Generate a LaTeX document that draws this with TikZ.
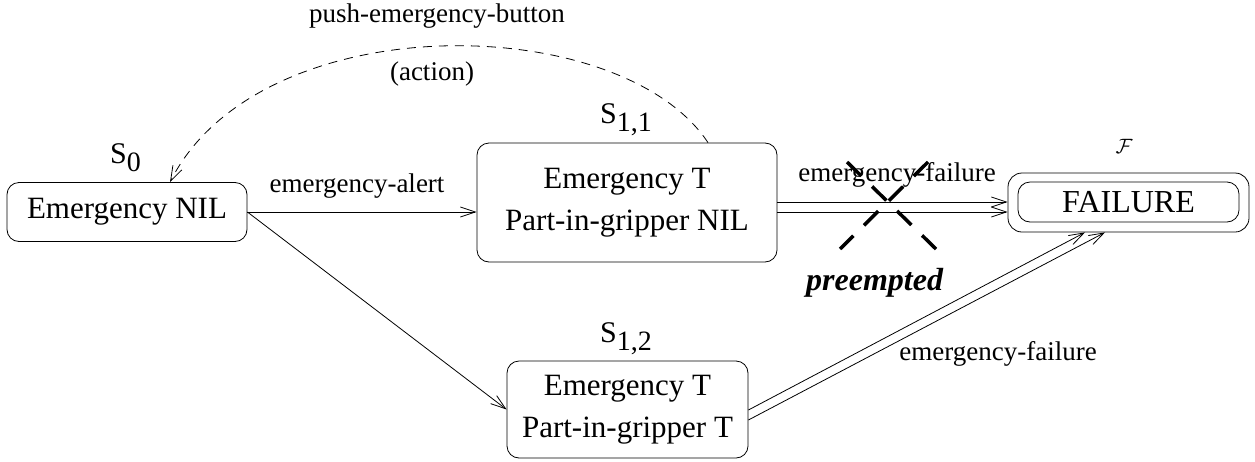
\documentclass[tikz,border=0pt]{standalone}
\usepackage{fontspec}
\usepackage{graphicx}
\setmainfont{Liberation Serif}
\usetikzlibrary{arrows.meta}
\tikzset{
  statebox/.style={draw, rounded corners=12pt, line width=0.8pt, inner sep=0pt, align=center,
    font=\fontsize{31}{42}\selectfont},
  lbl/.style={font=\fontsize{27}{27}\selectfont, inner sep=0pt},
  slbl/.style={anchor=base west, inner sep=0pt},
  tr/.style={line width=0.8pt, -{Straight Barb[length=15pt,width=10pt,line width=0.8pt]}},
  actarrow/.style={tr, dash pattern=on 9pt off 7pt},
  crossline/.style={line width=3.5pt, dash pattern=on 20pt off 15pt},
}
\newcommand\stname[1]{{\fontsize{30}{30}\selectfont S}\raisebox{-8pt}{\fontsize{28}{28}\selectfont #1}}
\begin{document}
\begin{tikzpicture}[x=1pt,y=-1pt]
\useasboundingbox (0,0) rectangle (1255,461);
% states
\node[statebox, minimum width=240pt, minimum height=59pt] (s0) at (127,212) {Emergency NIL};
\node[statebox, minimum width=300pt, minimum height=119pt] (s11) at (627,202.5) {Emergency T\\Part-in-gripper NIL};
\node[statebox, minimum width=241pt, minimum height=97pt] (s12) at (627.5,409.5) {Emergency T\\Part-in-gripper T};
\node[draw, rounded corners=14pt, line width=0.8pt, minimum width=241pt, minimum height=59pt, inner sep=0pt] (fo) at (1128.5,202.5) {};
\node[draw, rounded corners=12pt, line width=0.8pt, minimum width=221pt, minimum height=40pt, inner sep=0pt,
  font=\fontsize{32}{32}\selectfont] (fail) at (1128.5,202) {FAILURE};
% state names
\node[slbl] (n0) at (110,163) {\stname{0}};
\node[slbl] (n11) at (600,123) {\stname{1,1}};
\node[slbl] (n12) at (600,342) {\stname{1,2}};
\node[inner sep=0pt, font=\fontsize{22}{22}\selectfont] (nf) at (1124,146) {$\mathcal{F}$};
% transitions
\draw[tr] (s0.east) -- (s0.east -| s11.west);
\node[lbl, anchor=base] (la) at (357,192) {emergency-alert};
\draw[tr] (s0.east) -- (s12.west);
\draw[tr] ([yshift=0.5pt]s11.east) -- ([yshift=0.5pt]s11.east -| fo.west);
\draw[tr] ([yshift=-9.5pt]s11.east) -- ([yshift=-9.5pt]s11.east -| fo.west);
\node[lbl, anchor=base] (lf1) at (897,181) {emergency-failure};
\draw[tr] ([yshift=-0.5pt]s12.east) -- ([xshift=-43.5pt]fo.south);
\draw[tr] ([yshift=-10.5pt]s12.east) -- ([xshift=-23.5pt]fo.south);
\node[lbl, anchor=base] (lf2) at (998,360) {emergency-failure};
% action
\draw[actarrow] ([xshift=81pt]s11.north) .. controls (620,10) and (260,5) .. ([xshift=43pt]s0.north);
\node[lbl, anchor=base] (lp) at (437,22) {push-emergency-button};
\node[lbl, anchor=base] (lac) at (432,80) {(action)};
% preempted cross
\coordinate (xc) at (888,206);
\draw[crossline] ([shift={(-41,-44)}]xc) -- ([shift={(48,43)}]xc);
\draw[crossline] ([shift={(40,-44)}]xc) -- ([shift={(-48,43)}]xc);
\node[anchor=base west, inner sep=0pt, font=\fontsize{32}{32}\selectfont\bfseries\itshape] (pre) at (806,290) {preempted};
\end{tikzpicture}
\end{document}
